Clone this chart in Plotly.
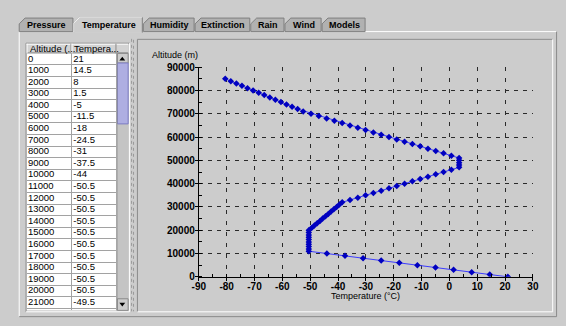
import plotly.graph_objects as go

# ---------------- data ----------------
ALTITUDE_M = [0, 1000, 2000, 3000, 4000, 5000, 6000, 7000, 8000, 9000,
              10000, 11000, 12000, 13000, 14000, 15000, 16000, 17000, 18000, 19000,
              20000, 21000, 22000, 23000, 24000, 25000, 26000, 27000, 28000, 29000,
              30000, 31000, 32000, 33000, 34000, 35000, 36000, 37000, 38000, 39000,
              40000, 41000, 42000, 43000, 44000, 45000, 46000, 47000, 48000, 49000,
              50000, 51000, 52000, 53000, 54000, 55000, 56000, 57000, 58000, 59000,
              60000, 61000, 62000, 63000, 64000, 65000, 66000, 67000, 68000, 69000,
              70000, 71000, 72000, 73000, 74000, 75000, 76000, 77000, 78000, 79000,
              80000, 81000, 82000, 83000, 84000, 85000]
TEMPERATURE_C = [21, 14.5, 8, 1.5, -5, -11.5, -18, -24.5, -31, -37.5,
                 -44, -50.5, -50.5, -50.5, -50.5, -50.5, -50.5, -50.5, -50.5, -50.5,
                 -50.5, -49.5, -48.5, -47.5, -46.5, -45.5, -44.5, -43.5, -42.5, -41.5,
                 -40.5, -39.5, -38.5, -35.7, -32.9, -30.1, -27.3, -24.5, -21.7, -18.9,
                 -16.1, -13.3, -10.5, -7.7, -4.9, -2.1, 0.7, 3.5, 3.5, 3.5,
                 3.5, 3.5, 0.7, -2.1, -4.9, -7.7, -10.5, -13.3, -16.1, -18.9,
                 -21.7, -24.5, -27.3, -30.1, -32.9, -35.7, -38.5, -41.3, -44.1, -46.9,
                 -49.7, -52.5, -54.5, -56.5, -58.5, -60.5, -62.5, -64.5, -66.5, -68.5,
                 -70.5, -72.5, -74.5, -76.5, -78.5, -80.5]

X_TICKS = [-90, -80, -70, -60, -50, -40, -30, -20, -10, 0, 10, 20, 30]
X_TICK_LABELS = ["-90", "-80", "-70", "-60", "-50", "-40", "-30", "-20", "-10", "0", "10", "20", "30"]
X_GRID = [-80, -70, -60, -50, -40, -30, -20, -10, 0, 10, 20]
Y_TICKS = [0, 10000, 20000, 30000, 40000, 50000, 60000, 70000, 80000, 90000]
Y_TICK_LABELS = ["0", "10000", "20000", "30000", "40000", "50000", "60000", "70000", "80000", "90000"]

TAB_LABELS = ["Pressure", "Temperature", "Humidity", "Extinction", "Rain", "Wind", "Models"]
SELECTED_TAB = "Temperature"
TABLE_HEADERS = ["Altitude (...", "Tempera..."]
TABLE_FIRST_ROWS = 23          # rows scrolled into view (last one partly)
X_TITLE = "Temperature (°C)"
Y_TITLE = "Altitude (m)"

# ---------------- layout helpers (pixel -> paper) ----------------
W, H = 566, 326
FONT = "Liberation Sans, Arial, sans-serif"
BG = "#cccccc"
TAB_BG = "#b1b1b1"
EDGE = "#7f7f7f"
GRIDC = "#a2a2a2"


def px(x):
    return x / W


def py(y):
    return 1 - y / H


shapes = []
annotations = []


def rect(x0, y0, x1, y1, fill=None, line=None, layer="below"):
    shapes.append(dict(type="rect", xref="paper", yref="paper",
                       x0=px(x0), x1=px(x1), y0=py(y1), y1=py(y0),
                       fillcolor=fill or "rgba(0,0,0,0)",
                       line=dict(color=line or "rgba(0,0,0,0)", width=1 if line else 0),
                       layer=layer))


def seg(x0, y0, x1, y1, color, dash="solid", layer="above"):
    shapes.append(dict(type="line", xref="paper", yref="paper",
                       x0=px(x0), x1=px(x1), y0=py(y0), y1=py(y1),
                       line=dict(color=color, width=1, dash=dash), layer=layer))


def path(pts, fill, line, close=True, layer="below"):
    d = "M " + " L ".join(f"{px(x):.5f},{py(y):.5f}" for x, y in pts)
    if close:
        d += " Z"
    shapes.append(dict(type="path", xref="paper", yref="paper", path=d,
                       fillcolor=fill, line=dict(color=line or "rgba(0,0,0,0)", width=1 if line else 0),
                       layer=layer))


def label(x, y, s, size=9, bold=False, xanchor="left", color="black"):
    annotations.append(dict(x=px(x), y=py(y), xref="paper", yref="paper", text=s,
                            showarrow=False, xanchor=xanchor, yanchor="middle",
                            font=dict(family=FONT, size=size, color=color,
                                      weight="bold" if bold else "normal")))


# ---------------- tabbed pane ----------------
TAB_X = [(12, 67), (68, 138), (139, 191), (192, 248), (249, 283), (284, 321), (322, 366)]
TAB_TOP, TAB_BOTTOM = 12.5, 26.5
seg(12.5, TAB_BOTTOM, 562.5, TAB_BOTTOM, "#ffffff")
seg(12.5, TAB_BOTTOM, 12.5, 321.5, "#ffffff")
seg(12.5, 321.5, 562.5, 321.5, "#8a8a8a")
seg(562.5, TAB_BOTTOM, 562.5, 321.5, "#8a8a8a")
for (x0, x1), name in zip(TAB_X, TAB_LABELS):
    sel = name == SELECTED_TAB
    top = TAB_TOP - (1 if sel else 0)
    pts = [(x0 + 0.5, TAB_BOTTOM + (1 if sel else 0)), (x0 + 0.5, top + 6), (x0 + 6.5, top),
           (x1 + 0.5, top), (x1 + 0.5, TAB_BOTTOM + (1 if sel else 0))]
    path(pts, BG if sel else TAB_BG, EDGE, close=not sel, layer="above")
    if sel:
        path(pts[:-1], "rgba(0,0,0,0)", "#ffffff", close=False, layer="above")
    label((x0 + x1) / 2 + 1, 19.5, name, size=9, bold=True, xanchor="center")

# ---------------- left scroll pane with table ----------------
TX0, TX1, TCOL = 20, 112, 66
THEAD0, THEAD1, TBOT = 39, 49, 315
ROW_H = 12
seg(19.5, 38.5, 125.5, 38.5, "#8a8a8a")
seg(19.5, 38.5, 19.5, 316.5, "#8a8a8a")
seg(19.5, 316.5, 125.5, 316.5, "#ffffff")
seg(125.5, 38.5, 125.5, 316.5, "#ffffff")
rect(TX0, THEAD1, TX1, TBOT, fill="#ffffff")
rect(TX0, THEAD0, 124, THEAD1, fill="#d3d3d3")
seg(TX0, THEAD0 + 0.5, 124, THEAD0 + 0.5, "#ffffff")
seg(TX0, THEAD1 - 0.5, 124, THEAD1 - 0.5, "#8a8a8a")
seg(TX0 + 0.5, THEAD0, TX0 + 0.5, THEAD1, "#ffffff")
seg(TCOL - 0.5, THEAD0, TCOL - 0.5, THEAD1, "#8a8a8a")
seg(TCOL + 0.5, THEAD0, TCOL + 0.5, THEAD1, "#ffffff")
seg(TX1 - 0.5, THEAD0, TX1 - 0.5, THEAD1, "#8a8a8a")
label(TX0 + 1, 44.5, TABLE_HEADERS[0], size=9.5)
label(TCOL + 1, 44.5, TABLE_HEADERS[1], size=9.5)

# scrollbar
SB0, SB1 = 112, 124
rect(SB0, THEAD1, SB1, TBOT, fill="#c4c4c4")
seg(SB0 + 0.5, THEAD1, SB0 + 0.5, TBOT, "#8a8a8a")
rect(SB0 + 1, THEAD1, SB1, 59, fill=BG, line="#8a8a8a")
path([(115, 56.5), (121, 56.5), (118, 52.5)], "#000000", None)
rect(SB0 + 1, 59, SB1, 122, fill="#aeaee2", line="#7c7cc4")
rect(SB0 + 1, 303, SB1, TBOT, fill=BG, line="#8a8a8a")
path([(115, 307), (121, 307), (118, 311)], "#000000", None)

# splitter
seg(127.5, 34, 127.5, 316, "#9a9a9a", dash="dot")
seg(129.5, 35, 129.5, 316, "#9a9a9a", dash="dot")

# ---------------- chart panel ----------------
CX0, CY0, CX1, CY1 = 133, 34, 558, 316
seg(CX0 + 0.5, CY0 + 0.5, CX1 + 0.5, CY0 + 0.5, "#8c8c8c")
seg(CX0 + 0.5, CY0 + 0.5, CX0 + 0.5, CY1 + 0.5, "#8c8c8c")
seg(CX0 + 0.5, CY1 + 0.5, CX1 + 0.5, CY1 + 0.5, "#ffffff")
seg(CX1 + 0.5, CY0 + 0.5, CX1 + 0.5, CY1 + 0.5, "#ffffff")

PX0, PX1 = 196.3, 538.3
PY_TOP, PY_BOT = 63.3, 280.3
label(146, 51, Y_TITLE, size=9)
label((PX0 + PX1) / 2, 300, X_TITLE, size=9, xanchor="center")

fig = go.Figure()

fig.add_trace(go.Scatter(
    x=TEMPERATURE_C, y=ALTITUDE_M, mode="lines+markers",
    line=dict(color="#3c3cff", width=1),
    marker=dict(symbol="diamond", size=5, color="#0000c0", line=dict(width=0)),
    xaxis="x", yaxis="y", showlegend=False, hoverinfo="skip"))
fig.add_trace(go.Scatter(x=[], y=[], xaxis="x3", yaxis="y", showlegend=False))

vis_alt = ALTITUDE_M[:TABLE_FIRST_ROWS]
vis_tmp = TEMPERATURE_C[:TABLE_FIRST_ROWS]
fmt_alt = [f"{a:d}" for a in vis_alt]
fmt_tmp = [f"{t:g}" for t in vis_tmp]
rows = [i + 0.5 for i in range(len(vis_alt))]
fig.add_trace(go.Scatter(
    x=[0.03] * len(rows) + [1.04] * len(rows), y=rows + rows,
    text=fmt_alt + fmt_tmp, mode="text", textposition="middle right",
    textfont=dict(family=FONT, size=9.5, color="black"),
    cliponaxis=True, xaxis="x2", yaxis="y2", showlegend=False, hoverinfo="skip"))

tickfont = dict(family=FONT, size=10, color="black", weight="bold")
n_visible = (TBOT - THEAD1) / ROW_H

fig.update_layout(
    width=W, height=H, autosize=False,
    margin=dict(l=0, r=0, t=0, b=0, pad=0),
    paper_bgcolor=BG, plot_bgcolor="rgba(0,0,0,0)",
    shapes=shapes, annotations=annotations,
    xaxis=dict(domain=[px(PX0), px(PX1)], range=[-90, 30], anchor="y",
               tickmode="array", tickvals=X_TICKS, ticktext=X_TICK_LABELS,
               ticks="outside", ticklen=3, tickwidth=1, tickcolor="black",
               ticklabelstandoff=-3,
               showline=True, linecolor="black", linewidth=1,
               showgrid=False, zeroline=False, tickfont=tickfont,
               minor=dict(dtick=5, tick0=0, ticks="inside", ticklen=3,
                          tickcolor="black", showgrid=False),
               fixedrange=True),
    xaxis3=dict(domain=[px(PX0), px(PX1)], range=[-90, 30], anchor="y", overlaying="x",
                tickmode="array", tickvals=X_GRID, showticklabels=False, ticks="",
                showgrid=True, gridcolor="#2a2a2a", gridwidth=1, griddash="4px,7px",
                zeroline=False, showline=False, fixedrange=True),
    yaxis=dict(domain=[py(PY_BOT), py(PY_TOP)], range=[0, 90000], anchor="x",
               tickmode="array", tickvals=Y_TICKS, ticktext=Y_TICK_LABELS,
               ticks="outside", ticklen=3, tickwidth=1, tickcolor="black",
               ticklabelstandoff=-2,
               showline=True, linecolor="black", linewidth=1,
               showgrid=True, gridcolor="#2a2a2a", gridwidth=1, griddash="4px,5px",
               zeroline=False, tickfont=tickfont,
               minor=dict(dtick=5000, tick0=0, ticks="inside", ticklen=3,
                          tickcolor="black", showgrid=False),
               fixedrange=True),
    xaxis2=dict(domain=[px(TX0), px(TX1)], range=[0, 2], anchor="y2",
                tickmode="linear", tick0=0, dtick=1, showticklabels=False, ticks="",
                showgrid=True, gridcolor=GRIDC, gridwidth=1, zeroline=False,
                showline=False, fixedrange=True),
    yaxis2=dict(domain=[py(TBOT), py(THEAD1)], range=[n_visible, 0], anchor="x2",
                tickmode="linear", tick0=0, dtick=1, showticklabels=False, ticks="",
                showgrid=True, gridcolor=GRIDC, gridwidth=1, zeroline=False,
                showline=False, fixedrange=True),
)

fig.write_html("out.html", config={"displayModeBar": False},
               post_script="document.body.style.margin='0';document.body.style.overflow='hidden';")
